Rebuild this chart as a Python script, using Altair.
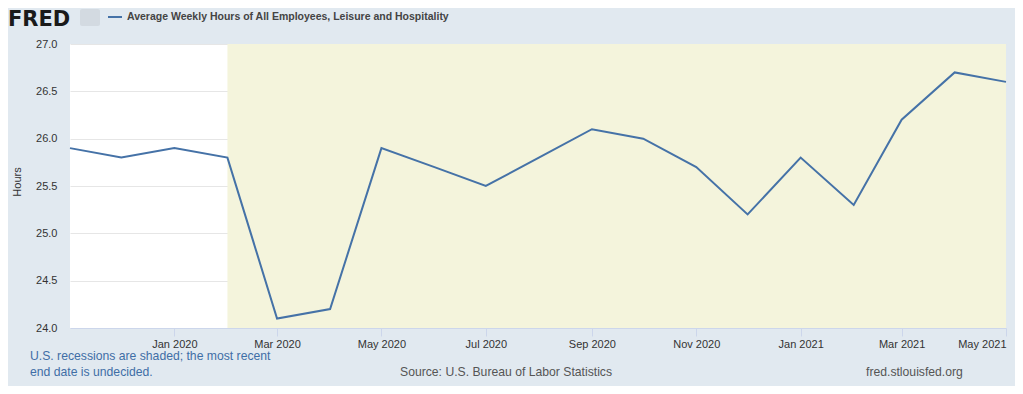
import altair as alt
import pandas as pd

# ---- data ----
months = ["2019-11-01", "2019-12-01", "2020-01-01", "2020-02-01", "2020-03-01",
          "2020-04-01", "2020-05-01", "2020-06-01", "2020-07-01", "2020-08-01",
          "2020-09-01", "2020-10-01", "2020-11-01", "2020-12-01", "2021-01-01",
          "2021-02-01", "2021-03-01", "2021-04-01", "2021-05-01"]
hours = [25.9, 25.8, 25.9, 25.8, 24.1, 24.2, 25.9, 25.7, 25.5, 25.8,
         26.1, 26.0, 25.7, 25.2, 25.8, 25.3, 26.2, 26.7, 26.6]
recession_start = ["2020-02-01"]
recession_end = ["2021-05-01"]
y_ticks = [24.0, 24.5, 25.0, 25.5, 26.0, 26.5, 27.0]
x_tick_months = [(2020, 1), (2020, 3), (2020, 5), (2020, 7), (2020, 9), (2020, 11),
                 (2021, 1), (2021, 3), (2021, 5)]

series_title = "Average Weekly Hours of All Employees, Leisure and Hospitality"
y_title = "Hours"
footer_lines = ["U.S. recessions are shaded; the most recent", "end date is undecided."]
source_text = "Source: U.S. Bureau of Labor Statistics"
site_text = "fred.stlouisfed.org"

W, H = 936, 284
LINE_COLOR = "#4572a7"
FONT = "Liberation Sans"

df = pd.DataFrame({"date": months, "value": hours})
rec = pd.DataFrame({"start": recession_start, "end": recession_end})

x_domain = [alt.DateTime(year=2019, month=11, date=1, utc=True),
            alt.DateTime(year=2021, month=5, date=1, utc=True)]
x_values = [alt.DateTime(year=y, month=m, date=1, utc=True) for y, m in x_tick_months]

x_scale = alt.Scale(type="utc", domain=x_domain, nice=False)
x_axis = alt.Axis(values=x_values, labelExpr="utcFormat(datum.value, '%b %Y')", title=None,
                  grid=False, tickSize=8, tickColor="#ccd6eb", domainColor="#ccd6eb",
                  labelPadding=2, labelFontSize=11, labelColor="#333333",
                  labelFont=FONT, labelOverlap=False, labelFlush=True)

shade = alt.Chart(rec).mark_rect(color="#f4f4dc").encode(
    x=alt.X("start:T", scale=x_scale, axis=x_axis),
    x2="end:T",
    y=alt.value(0),
    y2=alt.value(H),
)

line = alt.Chart(df).mark_line(color=LINE_COLOR, strokeWidth=2).encode(
    x=alt.X("date:T", scale=x_scale, axis=x_axis),
    y=alt.Y("value:Q",
            scale=alt.Scale(domain=[24, 27], nice=False, zero=False),
            axis=alt.Axis(values=y_ticks, format=".1f", title=None, grid=True,
                          gridColor="#e6e6e6", tickSize=0, domain=False,
                          labelPadding=13, labelFontSize=11, labelColor="#333333",
                          labelFont=FONT)),
)


def text_layer(txt, x, y, size, color, weight="normal", align="left",
               baseline="middle", angle=0, font=FONT):
    props = dict(align=align, baseline=baseline, fontSize=size, color=color,
                 fontWeight=weight, font=font)
    if angle:
        props["angle"] = angle
    return alt.Chart(pd.DataFrame({"t": [txt]})).mark_text(**props).encode(
        text="t:N", x=alt.value(x), y=alt.value(y))


fred = text_layer("FRED", -62, -18, 21, "#1a1a1a", weight="bold", baseline="alphabetic",
                  font="DejaVu Sans")
icon = alt.Chart(pd.DataFrame({"t": [0]})).mark_rect(
    color="#d3dae1", cornerRadius=2).encode(
    x=alt.value(10), x2=alt.value(30), y=alt.value(-35), y2=alt.value(-18))
legend_line = alt.Chart(pd.DataFrame({"t": [0]})).mark_rule(
    color=LINE_COLOR, strokeWidth=2).encode(
    x=alt.value(38), x2=alt.value(52), y=alt.value(-27))
title = text_layer(series_title, 57, -27, 10.5, "#444444", weight="bold")
ytitle = text_layer(y_title, -52, 138, 11, "#333333", align="center", angle=270)
foot1 = text_layer(footer_lines[0], -40, 312, 12.2, "#3f6ea6")
foot2 = text_layer(footer_lines[1], -40, 328, 12.2, "#3f6ea6")
src = text_layer(source_text, 330, 328, 12.2, "#555555")
site = text_layer(site_text, 796, 328, 12.2, "#555555")

chart = alt.layer(shade, line, fred, icon, legend_line, title, ytitle,
                  foot1, foot2, src, site).properties(
    width=W, height=H,
    autosize=alt.AutoSizeParams(type="none"),
    padding={"left": 62, "top": 36, "right": 9, "bottom": 58},
    background="#e1e9f0",
).configure_view(fill="white", stroke=None)

chart.save("out.html", embed_options={"renderer": "svg", "actions": False})
